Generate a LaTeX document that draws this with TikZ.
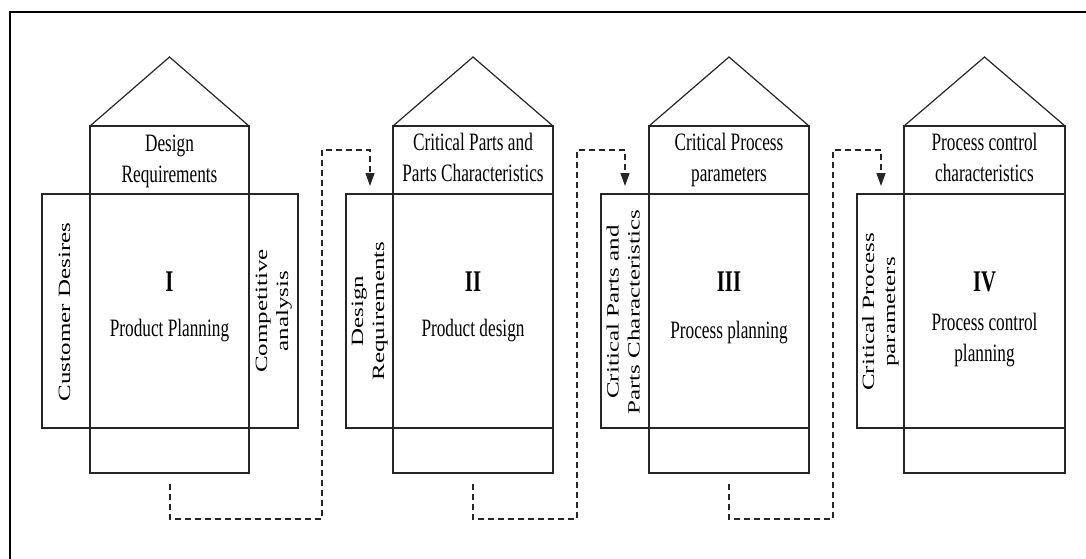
\documentclass[tikz,border=0pt]{standalone}
\usepackage{fontspec}
\setmainfont{Liberation Serif}
\usepackage{graphicx}
\usetikzlibrary{arrows.meta}
\newcommand{\hlab}[1]{\scalebox{0.69}[1]{\begin{tabular}{@{}c@{}}#1\end{tabular}}}
\newcommand{\vlab}[1]{\scalebox{0.69}[1]{\rotatebox{90}{\begin{tabular}{@{}c@{}}#1\end{tabular}}}}
\begin{document}
\begin{tikzpicture}[x=1pt,y=-1pt,
  box/.style={draw=black!85,line width=1.2pt},
  frame/.style={draw=black,line width=2.6pt},
  lab/.style={inner sep=0pt,font=\fontsize{25}{30.5}\selectfont},
  num/.style={inner sep=0pt,font=\fontsize{30}{36}\selectfont\bfseries},
  flow/.style={draw=black!85,line width=1.2pt,dash pattern=on 6pt off 4pt,-{Triangle[length=13pt,width=9pt]}}]
\useasboundingbox (0,0) rectangle (1086,559);
\fill[white] (0,0) rectangle (1086,559);
% outer frame
\draw[frame] (1086,12) -- (10,12) -- (10,559);
% houses
\foreach \l/\r/\wl/\wr in {90/249/42/298, 393/553/346/553, 649/809/601/809, 904/1065/857/1065} {
  \draw[box,line join=miter] (\l,126) -- ({(\l+\r)/2},57) -- (\r,126);
  \draw[box] (\l,126) rectangle (\r,473);
  \draw[box] (\wl,194) rectangle (\wr,428);
}
% house I
\node[lab] (h1) at (169.5,161) {\hlab{Design\\Requirements}};
\node[num] (n1) at (169.5,284) {\hlab{I}};
\node[lab] (t1) at (169.5,330) {\hlab{Product Planning}};
\node[lab] (l1) at (66,312) {\vlab{Customer Desires}};
\node[lab] (r1) at (273.5,311) {\vlab{Competitive\\analysis}};
% house II
\node[lab] (h2) at (473,160) {\hlab{Critical Parts and\\Parts Characteristics}};
\node[num] (n2) at (473,284) {\hlab{II}};
\node[lab] (t2) at (473,330) {\hlab{Product design}};
\node[lab] (l2) at (369.5,311) {\vlab{Design\\Requirements}};
% house III
\node[lab] (h3) at (729,160) {\hlab{Critical Process\\parameters}};
\node[num] (n3) at (729,284) {\hlab{III}};
\node[lab] (t3) at (729,332) {\hlab{Process planning}};
\node[lab] (l3) at (625,312) {\vlab{Critical Parts and\\Parts Characteristics}};
% house IV
\node[lab] (h4) at (984.5,160) {\hlab{Process control\\characteristics}};
\node[num] (n4) at (984.5,284) {\hlab{IV}};
\node[lab] (t4) at (984.5,340) {\hlab{Process control\\planning}};
\node[lab] (l4) at (880.5,312) {\vlab{Critical Process\\parameters}};
% connectors
\coordinate (s1) at (170,484);  \coordinate (b1) at (322,519); \coordinate (c1) at (370,150); \coordinate (e1) at (370,186);
\coordinate (s2) at (473,484);  \coordinate (b2) at (577,519); \coordinate (c2) at (625,150); \coordinate (e2) at (625,186);
\coordinate (s3) at (729,484);  \coordinate (b3) at (833,519); \coordinate (c3) at (881,150); \coordinate (e3) at (881,186);
\draw[flow] (s1) |- (b1) |- (c1) -- (e1);
\draw[flow] (s2) |- (b2) |- (c2) -- (e2);
\draw[flow] (s3) |- (b3) |- (c3) -- (e3);
\end{tikzpicture}
\end{document}
